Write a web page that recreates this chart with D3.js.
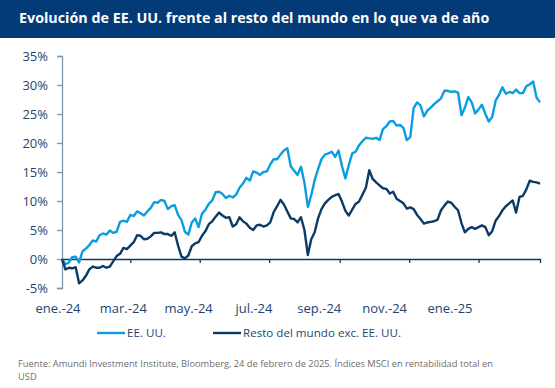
<!DOCTYPE html>
<html>
<head>
<meta charset="utf-8">
<script src="https://cdn.jsdelivr.net/npm/d3@7"></script>
<style>
  body { margin: 0; background: #fff; }
  text { font-family: "Open Sans", "Noto Sans", sans-serif; }
</style>
</head>
<body>
<div id="chart"></div>
<script>
// valores: un punto cada 3 dias desde el 1 de enero de 2024
var startDate = new Date(2024, 0, 1)
var stepDays = 3

var usa = [0, -0.9, -0.6, 0.3, 0.4, -0.6, 1.3, 1.8, 2.4, 3.2,
  3.0, 4.1, 4.4, 4.2, 4.9, 4.5, 4.7, 6.4, 6.6, 6.4,
  7.6, 7.4, 8.2, 7.9, 7.5, 8.2, 8.8, 9.8, 9.7, 10.2,
  10.0, 8.6, 9.1, 9.3, 7.6, 6.7, 4.7, 4.2, 6.3, 7.0,
  5.5, 7.8, 8.5, 9.5, 10.1, 11.5, 11.6, 11.2, 10.5, 10.9,
  10.6, 11.1, 12.3, 13.0, 14.0, 13.5, 15.1, 14.9, 14.5, 15.0,
  15.1, 16.3, 17.2, 17.2, 18.0, 18.7, 19.1, 16.0, 15.2, 14.5,
  15.9, 13.2, 9.0, 11.0, 13.6, 15.5, 17.2, 18.0, 18.2, 18.5,
  17.6, 18.7, 16.0, 13.9, 16.2, 18.2, 18.5, 19.6, 20.3, 20.9,
  20.8, 20.7, 20.9, 20.5, 22.4, 22.9, 23.7, 23.8, 23.0, 23.1,
  22.6, 20.5, 21.0, 26.0, 27.0, 26.5, 24.6, 25.6, 26.1, 26.7,
  27.2, 27.7, 29.0, 29.0, 28.8, 28.9, 28.7, 24.8, 26.1, 27.9,
  27.0, 25.1, 25.8, 26.6, 25.0, 23.7, 24.5, 27.3, 28.3, 29.6,
  28.5, 28.8, 28.6, 29.2, 28.6, 28.6, 29.8, 30.1, 30.6, 27.8,
  27.0]

var restOfWorld = [0, -1.8, -1.5, -1.6, -1.4, -4.2, -3.7, -2.9, -1.8, -1.3,
  -1.5, -1.5, -1.2, -1.5, -1.3, -0.4, 0.5, 0.9, 1.9, 1.7,
  2.3, 2.9, 4.1, 4.0, 3.4, 3.5, 3.9, 4.5, 4.5, 4.6,
  4.3, 4.3, 4.0, 4.6, 2.3, 0.4, 0.1, 0.6, 2.2, 2.7,
  2.9, 4.0, 4.8, 6.0, 6.5, 7.3, 8.0, 7.5, 7.1, 7.2,
  5.6, 6.0, 7.2, 6.5, 6.1, 5.4, 5.0, 5.8, 5.9, 5.6,
  5.8, 6.3, 8.1, 9.1, 10.2, 9.4, 8.2, 7.0, 6.9, 6.3,
  7.2, 5.0, 0.7, 3.4, 4.6, 7.0, 8.6, 9.6, 10.2, 10.7,
  11.0, 11.2, 9.9, 8.3, 7.5, 8.5, 9.5, 9.9, 11.1, 12.3,
  15.3, 13.8, 13.2, 12.7, 12.2, 12.1, 11.3, 11.6, 10.4, 10.0,
  9.6, 8.7, 8.9, 8.6, 7.6, 6.9, 6.1, 6.3, 6.4, 6.5,
  6.8, 8.4, 9.2, 9.9, 9.7, 9.0, 8.4, 6.2, 4.6, 5.2,
  5.5, 5.2, 5.5, 5.8, 5.5, 4.1, 4.8, 6.6, 7.4, 8.4,
  9.1, 9.6, 10.1, 8.0, 10.7, 10.9, 12.0, 13.5, 13.3, 13.2,
  13.0]

var yTicks = [-5, 0, 5, 10, 15, 20, 25, 30, 35]
var monthLabels = ["ene.-24", "mar.-24", "may.-24", "jul.-24", "sep.-24", "nov.-24", "ene.-25"]
var seriesNames = ["EE. UU.", "Resto del mundo exc. EE. UU."]

var lightBlue = "#0a9ee0"
var navy = "#0b3a66"
var textBlue = "#1d4670"

var width = 555, height = 388

var svg = d3.select("#chart")
    .append("svg")
    .attr("width", width)
    .attr("height", height)

// cabecera
svg.append("rect")
    .attr("width", width)
    .attr("height", 38)
    .attr("fill", "#023b78")
svg.append("text")
    .attr("x", 19)
    .attr("y", 23)
    .attr("fill", "#fff")
    .attr("font-size", 14.3)
    .attr("font-weight", "bold")
    .text("Evolución de EE. UU. frente al resto del mundo en lo que va de año")

var dateOf = function(i) { return d3.timeDay.offset(startDate, i * stepDays) }
var endDate = dateOf(usa.length - 1)

var x = d3.scaleTime().domain([startDate, endDate]).range([62, 540])
var y = d3.scaleLinear().domain([-5, 35]).range([288, 56])

// eje y
var yAxis = svg.append("g")
    .attr("transform", "translate(62,0)")
    .call(d3.axisLeft(y).tickValues(yTicks).tickSize(5).tickPadding(9)
      .tickFormat(d => d + "%"))
yAxis.select(".domain").attr("stroke", "#8096ad").attr("stroke-width", 1.3)
yAxis.selectAll(".tick line").attr("stroke", "#8096ad").attr("stroke-width", 1.3)
yAxis.selectAll(".tick text")
    .attr("fill", textBlue)
    .attr("font-size", 13)
    .style("font-family", "'Open Sans', sans-serif")

// eje x en el 0%
var xAxis = svg.append("g")
    .attr("transform", "translate(0," + y(0) + ")")
    .call(d3.axisBottom(x).ticks(d3.timeMonth.every(2)).tickSize(4).tickFormat(""))
xAxis.select(".domain").attr("stroke", navy).attr("stroke-width", 1.3)
xAxis.selectAll(".tick line").attr("stroke", navy).attr("stroke-width", 1.3)

var labelScale = d3.scalePoint().domain(monthLabels).range([58, 450])
svg.append("g").selectAll("text")
    .data(monthLabels)
    .enter().append("text")
      .attr("x", d => labelScale(d))
      .attr("y", 313)
      .attr("text-anchor", "middle")
      .attr("fill", textBlue)
      .attr("font-size", 13)
      .text(d => d)

var line = d3.line()
    .x((d, i) => x(dateOf(i)))
    .y(d => y(d))

svg.append("path")
    .datum(usa)
    .attr("fill", "none")
    .attr("stroke", lightBlue)
    .attr("stroke-width", 2.4)
    .attr("stroke-linejoin", "round")
    .attr("d", line)

svg.append("path")
    .datum(restOfWorld)
    .attr("fill", "none")
    .attr("stroke", navy)
    .attr("stroke-width", 2.4)
    .attr("stroke-linejoin", "round")
    .attr("d", line)

// leyenda
var legend = svg.append("g").attr("transform", "translate(0,333)")
var legendItem = legend.selectAll("g")
    .data(seriesNames)
    .enter().append("g")
    .attr("transform", (d, i) => "translate(" + [97, 213][i] + ",0)")
legendItem.append("line")
    .attr("x1", 0).attr("x2", 28)
    .attr("stroke", (d, i) => [lightBlue, navy][i])
    .attr("stroke-width", 2.4)
legendItem.append("text")
    .attr("x", 30)
    .attr("y", 4)
    .attr("fill", textBlue)
    .attr("font-size", 11.6)
    .text(d => d)

// fuente
var note = svg.append("g").attr("fill", "#6e6e6e").attr("font-size", 9.3)
note.append("text").attr("x", 18).attr("y", 367)
    .text("Fuente: Amundi Investment Institute, Bloomberg, 24 de febrero de 2025. Índices MSCI en rentabilidad total en")
note.append("text").attr("x", 18).attr("y", 380).text("USD")
</script>
</body>
</html>
